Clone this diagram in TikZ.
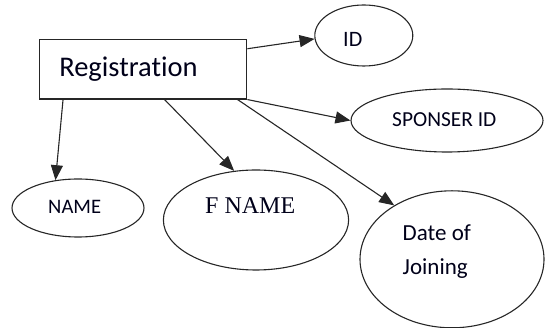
\documentclass[tikz,border=0pt]{standalone}
\usepackage{fontspec}
\setmainfont[Ligatures=NoCommon]{Carlito}
\newfontfamily\timesf{Liberation Serif}
\usetikzlibrary{shapes.geometric,arrows.meta}
\tikzset{
  ent/.style={draw=black!85, line width=1.1pt, rectangle, inner sep=0pt},
  attr/.style={draw=black!85, line width=1.1pt, ellipse, inner sep=0pt},
  lbl/.style={inner sep=0pt, anchor=base west, text=black!90!blue},
  arr/.style={draw=black!85, line width=1.1pt, -{Triangle[length=15pt,width=12pt]}}
}
\begin{document}
\begin{tikzpicture}[x=1pt,y=1pt]
\useasboundingbox (0,0) rectangle (545,328);
% entity
\node[ent, minimum width=207.5pt, minimum height=59.7pt] (reg) at (143.05,258.85) {};
\node[lbl, font=\fontsize{28.5}{30}\selectfont] (regt) at (59.1,251.3) {Registration};
% attributes
\node[attr, minimum width=98pt, minimum height=61pt] (id) at (363.8,292.5) {};
\node[lbl, font=\fontsize{22}{24}\selectfont] (idt) at (343,281.3) {ID};
\node[attr, minimum width=192pt, minimum height=63pt] (sponsor) at (447,207.5) {};
\node[lbl, font=\fontsize{21.4}{23}\selectfont] (sponsort) at (392,201.3) {SPONSER ID};
\node[attr, minimum width=132pt, minimum height=58pt] (name) at (78,120) {};
\node[lbl, font=\fontsize{20.6}{22}\selectfont] (namet) at (48,114.7) {NAME};
\node[attr, minimum width=185.2pt, minimum height=100pt] (fname) at (256,108) {};
\node[lbl, font=\timesf\fontsize{24}{26}\selectfont] (fnamet) at (205,114.7) {F\hspace{6pt}NAME};
\node[attr, minimum width=184pt, minimum height=137pt] (date) at (452,68.7) {};
\node[lbl, font=\fontsize{23}{25}\selectfont] (datet1) at (402.5,87.3) {Date of};
\node[lbl, font=\fontsize{23}{25}\selectfont] (datet2) at (402.5,53) {Joining};
% connectors
\draw[arr] ([yshift=-10pt]reg.north east) -- (id.184);
\draw[arr] (reg.south east) -- (sponsor.180);
\draw[arr] ([xshift=24.3pt]reg.south west) -- (name.129);
\draw[arr] ([xshift=125.8pt]reg.south west) -- (fname.114);
\draw[arr] ([xshift=198.8pt]reg.south west) -- (date.137);
\end{tikzpicture}
\end{document}
